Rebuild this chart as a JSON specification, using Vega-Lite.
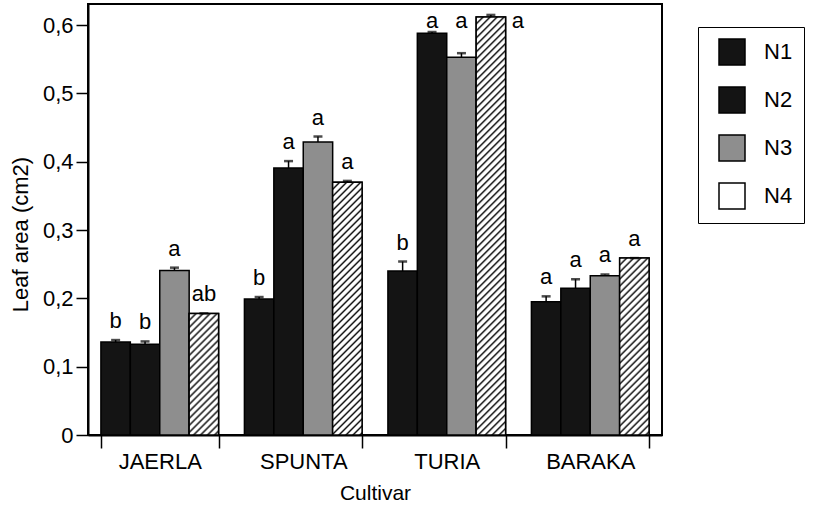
{
  "$schema": "https://vega.github.io/schema/vega-lite/v6.json",
  "width": 574,
  "height": 431,
  "autosize": {"type": "none"},
  "padding": {"left": 88, "top": 4, "right": 152, "bottom": 76},
  "background": "white",
  "config": {
    "font": "Liberation Sans",
    "view": {"stroke": "black", "strokeWidth": 2},
    "axis": {
      "domainColor": "black", "tickColor": "black", "labelColor": "black", "titleColor": "black",
      "labelFont": "Liberation Sans", "titleFont": "Liberation Sans", "titleFontWeight": "normal",
      "grid": false, "domainWidth": 2, "tickWidth": 1.5
    },
    "text": {"font": "Liberation Sans"}
  },
  "data": {
    "values": [
      {"cultivar": "JAERLA", "N": "N1", "value": 0.136, "hi": 0.139, "label": "b"},
      {"cultivar": "JAERLA", "N": "N2", "value": 0.133, "hi": 0.137, "label": "b"},
      {"cultivar": "JAERLA", "N": "N3", "value": 0.241, "hi": 0.245, "label": "a"},
      {"cultivar": "JAERLA", "N": "N4", "value": 0.178, "hi": 0.178, "label": "ab"},
      {"cultivar": "SPUNTA", "N": "N1", "value": 0.199, "hi": 0.202, "label": "b"},
      {"cultivar": "SPUNTA", "N": "N2", "value": 0.391, "hi": 0.401, "label": "a"},
      {"cultivar": "SPUNTA", "N": "N3", "value": 0.429, "hi": 0.437, "label": "a"},
      {"cultivar": "SPUNTA", "N": "N4", "value": 0.370, "hi": 0.372, "label": "a"},
      {"cultivar": "TURIA", "N": "N1", "value": 0.240, "hi": 0.254, "label": "b"},
      {"cultivar": "TURIA", "N": "N2", "value": 0.588, "hi": 0.590, "label": "a"},
      {"cultivar": "TURIA", "N": "N3", "value": 0.553, "hi": 0.559, "label": "a"},
      {"cultivar": "TURIA", "N": "N4", "value": 0.612, "hi": 0.615, "label": "a"},
      {"cultivar": "BARAKA", "N": "N1", "value": 0.195, "hi": 0.203, "label": "a"},
      {"cultivar": "BARAKA", "N": "N2", "value": 0.215, "hi": 0.228, "label": "a"},
      {"cultivar": "BARAKA", "N": "N3", "value": 0.233, "hi": 0.235, "label": "a"},
      {"cultivar": "BARAKA", "N": "N4", "value": 0.259, "hi": 0.259, "label": "a"}
    ]
  },
  "encoding": {
    "x": {
      "field": "cultivar", "type": "nominal",
      "sort": ["JAERLA", "SPUNTA", "TURIA", "BARAKA"],
      "scale": {"paddingInner": 0.18, "paddingOuter": 0.09},
      "axis": {
        "title": "Cultivar", "labelAngle": 0, "tickBand": "extent", "tickSize": 13,
        "labelFontSize": 22, "labelPadding": 3, "titleFontSize": 21,
        "titleY": 58, "titleBaseline": "middle"
      }
    },
    "xOffset": {
      "field": "N", "type": "nominal", "sort": ["N1", "N2", "N3", "N4"],
      "scale": {"paddingInner": 0, "paddingOuter": 0}
    }
  },
  "layer": [
    {
      "mark": {"type": "bar", "stroke": "black", "strokeWidth": 1.5},
      "encoding": {
        "y": {
          "field": "value", "type": "quantitative",
          "scale": {"domain": [0, 0.631], "nice": false, "zero": true},
          "axis": {
            "values": [0, 0.1, 0.2, 0.3, 0.4, 0.5, 0.6],
            "labelExpr": "datum.value == 0 ? '0' : replace(format(datum.value, '.1f'), '.', ',')",
            "tickSize": 12, "labelFontSize": 22, "labelPadding": 3,
            "title": "Leaf area (cm2)", "titleFontSize": 22,
            "titleX": -68, "titleY": 230, "titleBaseline": "middle"
          }
        },
        "fill": {
          "field": "N", "type": "nominal",
          "scale": {"domain": ["N1", "N2", "N3", "N4"], "range": ["#141414", "#141414", "#8e8e8e", "#ffffff"]},
          "legend": {
            "orient": "none", "legendX": 610, "legendY": 23, "title": null,
            "strokeColor": "black", "fillColor": "white", "padding": 11,
            "symbolType": "square", "symbolSize": 676, "symbolStrokeColor": "black",
            "symbolStrokeWidth": 1.5, "symbolOffset": 9, "labelOffset": 18,
            "labelFontSize": 22, "labelFont": "Liberation Sans", "labelColor": "black", "rowPadding": 16
          }
        }
      }
    },
    {
      "transform": [{"filter": "datum.N == 'N4' && datum.cultivar == 'JAERLA'"}],
      "mark": {"type": "bar", "stroke": "black", "strokeWidth": 1.5,
        "fill": {"gradient": "linear", "x1": 0, "y1": 0, "x2": 1.3157, "y2": 5.4383, "stops": [
          {"offset":0,"color":"#111"},{"offset":0.003,"color":"#fff"},{"offset":0.007,"color":"#fff"},
          {"offset":0.01,"color":"#111"},{"offset":0.013,"color":"#fff"},{"offset":0.017,"color":"#fff"},
          {"offset":0.02,"color":"#111"},{"offset":0.023,"color":"#fff"},{"offset":0.027,"color":"#fff"},
          {"offset":0.03,"color":"#111"},{"offset":0.033,"color":"#fff"},{"offset":0.037,"color":"#fff"},
          {"offset":0.04,"color":"#111"},{"offset":0.043,"color":"#fff"},{"offset":0.047,"color":"#fff"},
          {"offset":0.05,"color":"#111"},{"offset":0.053,"color":"#fff"},{"offset":0.057,"color":"#fff"},
          {"offset":0.06,"color":"#111"},{"offset":0.063,"color":"#fff"},{"offset":0.067,"color":"#fff"},
          {"offset":0.07,"color":"#111"},{"offset":0.073,"color":"#fff"},{"offset":0.077,"color":"#fff"},
          {"offset":0.08,"color":"#111"},{"offset":0.083,"color":"#fff"},{"offset":0.087,"color":"#fff"},
          {"offset":0.09,"color":"#111"},{"offset":0.093,"color":"#fff"},{"offset":0.097,"color":"#fff"},
          {"offset":0.1,"color":"#111"},{"offset":0.103,"color":"#fff"},{"offset":0.107,"color":"#fff"},
          {"offset":0.11,"color":"#111"},{"offset":0.113,"color":"#fff"},{"offset":0.117,"color":"#fff"},
          {"offset":0.12,"color":"#111"},{"offset":0.123,"color":"#fff"},{"offset":0.127,"color":"#fff"},
          {"offset":0.13,"color":"#111"},{"offset":0.133,"color":"#fff"},{"offset":0.137,"color":"#fff"},
          {"offset":0.14,"color":"#111"},{"offset":0.143,"color":"#fff"},{"offset":0.147,"color":"#fff"},
          {"offset":0.15,"color":"#111"},{"offset":0.153,"color":"#fff"},{"offset":0.157,"color":"#fff"},
          {"offset":0.16,"color":"#111"},{"offset":0.163,"color":"#fff"},{"offset":0.167,"color":"#fff"},
          {"offset":0.17,"color":"#111"},{"offset":0.173,"color":"#fff"},{"offset":0.177,"color":"#fff"},
          {"offset":0.18,"color":"#111"},{"offset":0.183,"color":"#fff"},{"offset":0.187,"color":"#fff"},
          {"offset":0.19,"color":"#111"},{"offset":0.193,"color":"#fff"},{"offset":0.197,"color":"#fff"},
          {"offset":0.2,"color":"#111"},{"offset":0.203,"color":"#fff"},{"offset":0.207,"color":"#fff"},
          {"offset":0.21,"color":"#111"},{"offset":0.213,"color":"#fff"},{"offset":0.217,"color":"#fff"},
          {"offset":0.22,"color":"#111"}
        ]}},
      "encoding": {"y": {"field": "value", "type": "quantitative"}}
    },
    {
      "transform": [{"filter": "datum.N == 'N4' && datum.cultivar == 'SPUNTA'"}],
      "mark": {"type": "bar", "stroke": "black", "strokeWidth": 1.5,
        "fill": {"gradient": "linear", "x1": 0, "y1": 0, "x2": 0.31819, "y2": 2.733, "stops": [
          {"offset":0,"color":"#111"},{"offset":0.003,"color":"#fff"},{"offset":0.007,"color":"#fff"},
          {"offset":0.01,"color":"#111"},{"offset":0.013,"color":"#fff"},{"offset":0.017,"color":"#fff"},
          {"offset":0.02,"color":"#111"},{"offset":0.023,"color":"#fff"},{"offset":0.027,"color":"#fff"},
          {"offset":0.03,"color":"#111"},{"offset":0.033,"color":"#fff"},{"offset":0.037,"color":"#fff"},
          {"offset":0.04,"color":"#111"},{"offset":0.043,"color":"#fff"},{"offset":0.047,"color":"#fff"},
          {"offset":0.05,"color":"#111"},{"offset":0.053,"color":"#fff"},{"offset":0.057,"color":"#fff"},
          {"offset":0.06,"color":"#111"},{"offset":0.063,"color":"#fff"},{"offset":0.067,"color":"#fff"},
          {"offset":0.07,"color":"#111"},{"offset":0.073,"color":"#fff"},{"offset":0.077,"color":"#fff"},
          {"offset":0.08,"color":"#111"},{"offset":0.083,"color":"#fff"},{"offset":0.087,"color":"#fff"},
          {"offset":0.09,"color":"#111"},{"offset":0.093,"color":"#fff"},{"offset":0.097,"color":"#fff"},
          {"offset":0.1,"color":"#111"},{"offset":0.103,"color":"#fff"},{"offset":0.107,"color":"#fff"},
          {"offset":0.11,"color":"#111"},{"offset":0.113,"color":"#fff"},{"offset":0.117,"color":"#fff"},
          {"offset":0.12,"color":"#111"},{"offset":0.123,"color":"#fff"},{"offset":0.127,"color":"#fff"},
          {"offset":0.13,"color":"#111"},{"offset":0.133,"color":"#fff"},{"offset":0.137,"color":"#fff"},
          {"offset":0.14,"color":"#111"},{"offset":0.143,"color":"#fff"},{"offset":0.147,"color":"#fff"},
          {"offset":0.15,"color":"#111"},{"offset":0.153,"color":"#fff"},{"offset":0.157,"color":"#fff"},
          {"offset":0.16,"color":"#111"},{"offset":0.163,"color":"#fff"},{"offset":0.167,"color":"#fff"},
          {"offset":0.17,"color":"#111"},{"offset":0.173,"color":"#fff"},{"offset":0.177,"color":"#fff"},
          {"offset":0.18,"color":"#111"},{"offset":0.183,"color":"#fff"},{"offset":0.187,"color":"#fff"},
          {"offset":0.19,"color":"#111"},{"offset":0.193,"color":"#fff"},{"offset":0.197,"color":"#fff"},
          {"offset":0.2,"color":"#111"},{"offset":0.203,"color":"#fff"},{"offset":0.207,"color":"#fff"},
          {"offset":0.21,"color":"#111"},{"offset":0.213,"color":"#fff"},{"offset":0.217,"color":"#fff"},
          {"offset":0.22,"color":"#111"},{"offset":0.223,"color":"#fff"},{"offset":0.227,"color":"#fff"},
          {"offset":0.23,"color":"#111"},{"offset":0.233,"color":"#fff"},{"offset":0.237,"color":"#fff"},
          {"offset":0.24,"color":"#111"},{"offset":0.243,"color":"#fff"},{"offset":0.247,"color":"#fff"},
          {"offset":0.25,"color":"#111"},{"offset":0.253,"color":"#fff"},{"offset":0.257,"color":"#fff"},
          {"offset":0.26,"color":"#111"},{"offset":0.263,"color":"#fff"},{"offset":0.267,"color":"#fff"},
          {"offset":0.27,"color":"#111"},{"offset":0.273,"color":"#fff"},{"offset":0.277,"color":"#fff"},
          {"offset":0.28,"color":"#111"},{"offset":0.283,"color":"#fff"},{"offset":0.287,"color":"#fff"},
          {"offset":0.29,"color":"#111"},{"offset":0.293,"color":"#fff"},{"offset":0.297,"color":"#fff"},
          {"offset":0.3,"color":"#111"},{"offset":0.303,"color":"#fff"},{"offset":0.307,"color":"#fff"},
          {"offset":0.31,"color":"#111"},{"offset":0.313,"color":"#fff"},{"offset":0.317,"color":"#fff"},
          {"offset":0.32,"color":"#111"},{"offset":0.323,"color":"#fff"},{"offset":0.327,"color":"#fff"},
          {"offset":0.33,"color":"#111"},{"offset":0.333,"color":"#fff"},{"offset":0.337,"color":"#fff"},
          {"offset":0.34,"color":"#111"},{"offset":0.343,"color":"#fff"},{"offset":0.347,"color":"#fff"},
          {"offset":0.35,"color":"#111"},{"offset":0.353,"color":"#fff"},{"offset":0.357,"color":"#fff"},
          {"offset":0.36,"color":"#111"},{"offset":0.363,"color":"#fff"},{"offset":0.367,"color":"#fff"},
          {"offset":0.37,"color":"#111"},{"offset":0.373,"color":"#fff"},{"offset":0.377,"color":"#fff"},
          {"offset":0.38,"color":"#111"},{"offset":0.383,"color":"#fff"},{"offset":0.387,"color":"#fff"},
          {"offset":0.39,"color":"#111"},{"offset":0.393,"color":"#fff"},{"offset":0.397,"color":"#fff"},
          {"offset":0.4,"color":"#111"},{"offset":0.403,"color":"#fff"},{"offset":0.407,"color":"#fff"},
          {"offset":0.41,"color":"#111"}
        ]}},
      "encoding": {"y": {"field": "value", "type": "quantitative"}}
    },
    {
      "transform": [{"filter": "datum.N == 'N4' && datum.cultivar == 'TURIA'"}],
      "mark": {"type": "bar", "stroke": "black", "strokeWidth": 1.5,
        "fill": {"gradient": "linear", "x1": 0, "y1": 0, "x2": 0.11729, "y2": 1.6664, "stops": [
          {"offset":0,"color":"#111"},{"offset":0.003,"color":"#fff"},{"offset":0.007,"color":"#fff"},
          {"offset":0.01,"color":"#111"},{"offset":0.013,"color":"#fff"},{"offset":0.017,"color":"#fff"},
          {"offset":0.02,"color":"#111"},{"offset":0.023,"color":"#fff"},{"offset":0.027,"color":"#fff"},
          {"offset":0.03,"color":"#111"},{"offset":0.033,"color":"#fff"},{"offset":0.037,"color":"#fff"},
          {"offset":0.04,"color":"#111"},{"offset":0.043,"color":"#fff"},{"offset":0.047,"color":"#fff"},
          {"offset":0.05,"color":"#111"},{"offset":0.053,"color":"#fff"},{"offset":0.057,"color":"#fff"},
          {"offset":0.06,"color":"#111"},{"offset":0.063,"color":"#fff"},{"offset":0.067,"color":"#fff"},
          {"offset":0.07,"color":"#111"},{"offset":0.073,"color":"#fff"},{"offset":0.077,"color":"#fff"},
          {"offset":0.08,"color":"#111"},{"offset":0.083,"color":"#fff"},{"offset":0.087,"color":"#fff"},
          {"offset":0.09,"color":"#111"},{"offset":0.093,"color":"#fff"},{"offset":0.097,"color":"#fff"},
          {"offset":0.1,"color":"#111"},{"offset":0.103,"color":"#fff"},{"offset":0.107,"color":"#fff"},
          {"offset":0.11,"color":"#111"},{"offset":0.113,"color":"#fff"},{"offset":0.117,"color":"#fff"},
          {"offset":0.12,"color":"#111"},{"offset":0.123,"color":"#fff"},{"offset":0.127,"color":"#fff"},
          {"offset":0.13,"color":"#111"},{"offset":0.133,"color":"#fff"},{"offset":0.137,"color":"#fff"},
          {"offset":0.14,"color":"#111"},{"offset":0.143,"color":"#fff"},{"offset":0.147,"color":"#fff"},
          {"offset":0.15,"color":"#111"},{"offset":0.153,"color":"#fff"},{"offset":0.157,"color":"#fff"},
          {"offset":0.16,"color":"#111"},{"offset":0.163,"color":"#fff"},{"offset":0.167,"color":"#fff"},
          {"offset":0.17,"color":"#111"},{"offset":0.173,"color":"#fff"},{"offset":0.177,"color":"#fff"},
          {"offset":0.18,"color":"#111"},{"offset":0.183,"color":"#fff"},{"offset":0.187,"color":"#fff"},
          {"offset":0.19,"color":"#111"},{"offset":0.193,"color":"#fff"},{"offset":0.197,"color":"#fff"},
          {"offset":0.2,"color":"#111"},{"offset":0.203,"color":"#fff"},{"offset":0.207,"color":"#fff"},
          {"offset":0.21,"color":"#111"},{"offset":0.213,"color":"#fff"},{"offset":0.217,"color":"#fff"},
          {"offset":0.22,"color":"#111"},{"offset":0.223,"color":"#fff"},{"offset":0.227,"color":"#fff"},
          {"offset":0.23,"color":"#111"},{"offset":0.233,"color":"#fff"},{"offset":0.237,"color":"#fff"},
          {"offset":0.24,"color":"#111"},{"offset":0.243,"color":"#fff"},{"offset":0.247,"color":"#fff"},
          {"offset":0.25,"color":"#111"},{"offset":0.253,"color":"#fff"},{"offset":0.257,"color":"#fff"},
          {"offset":0.26,"color":"#111"},{"offset":0.263,"color":"#fff"},{"offset":0.267,"color":"#fff"},
          {"offset":0.27,"color":"#111"},{"offset":0.273,"color":"#fff"},{"offset":0.277,"color":"#fff"},
          {"offset":0.28,"color":"#111"},{"offset":0.283,"color":"#fff"},{"offset":0.287,"color":"#fff"},
          {"offset":0.29,"color":"#111"},{"offset":0.293,"color":"#fff"},{"offset":0.297,"color":"#fff"},
          {"offset":0.3,"color":"#111"},{"offset":0.303,"color":"#fff"},{"offset":0.307,"color":"#fff"},
          {"offset":0.31,"color":"#111"},{"offset":0.313,"color":"#fff"},{"offset":0.317,"color":"#fff"},
          {"offset":0.32,"color":"#111"},{"offset":0.323,"color":"#fff"},{"offset":0.327,"color":"#fff"},
          {"offset":0.33,"color":"#111"},{"offset":0.333,"color":"#fff"},{"offset":0.337,"color":"#fff"},
          {"offset":0.34,"color":"#111"},{"offset":0.343,"color":"#fff"},{"offset":0.347,"color":"#fff"},
          {"offset":0.35,"color":"#111"},{"offset":0.353,"color":"#fff"},{"offset":0.357,"color":"#fff"},
          {"offset":0.36,"color":"#111"},{"offset":0.363,"color":"#fff"},{"offset":0.367,"color":"#fff"},
          {"offset":0.37,"color":"#111"},{"offset":0.373,"color":"#fff"},{"offset":0.377,"color":"#fff"},
          {"offset":0.38,"color":"#111"},{"offset":0.383,"color":"#fff"},{"offset":0.387,"color":"#fff"},
          {"offset":0.39,"color":"#111"},{"offset":0.393,"color":"#fff"},{"offset":0.397,"color":"#fff"},
          {"offset":0.4,"color":"#111"},{"offset":0.403,"color":"#fff"},{"offset":0.407,"color":"#fff"},
          {"offset":0.41,"color":"#111"},{"offset":0.413,"color":"#fff"},{"offset":0.417,"color":"#fff"},
          {"offset":0.42,"color":"#111"},{"offset":0.423,"color":"#fff"},{"offset":0.427,"color":"#fff"},
          {"offset":0.43,"color":"#111"},{"offset":0.433,"color":"#fff"},{"offset":0.437,"color":"#fff"},
          {"offset":0.44,"color":"#111"},{"offset":0.443,"color":"#fff"},{"offset":0.447,"color":"#fff"},
          {"offset":0.45,"color":"#111"},{"offset":0.453,"color":"#fff"},{"offset":0.457,"color":"#fff"},
          {"offset":0.46,"color":"#111"},{"offset":0.463,"color":"#fff"},{"offset":0.467,"color":"#fff"},
          {"offset":0.47,"color":"#111"},{"offset":0.473,"color":"#fff"},{"offset":0.477,"color":"#fff"},
          {"offset":0.48,"color":"#111"},{"offset":0.483,"color":"#fff"},{"offset":0.487,"color":"#fff"},
          {"offset":0.49,"color":"#111"},{"offset":0.493,"color":"#fff"},{"offset":0.497,"color":"#fff"},
          {"offset":0.5,"color":"#111"},{"offset":0.503,"color":"#fff"},{"offset":0.507,"color":"#fff"},
          {"offset":0.51,"color":"#111"},{"offset":0.513,"color":"#fff"},{"offset":0.517,"color":"#fff"},
          {"offset":0.52,"color":"#111"},{"offset":0.523,"color":"#fff"},{"offset":0.527,"color":"#fff"},
          {"offset":0.53,"color":"#111"},{"offset":0.533,"color":"#fff"},{"offset":0.537,"color":"#fff"},
          {"offset":0.54,"color":"#111"},{"offset":0.543,"color":"#fff"},{"offset":0.547,"color":"#fff"},
          {"offset":0.55,"color":"#111"},{"offset":0.553,"color":"#fff"},{"offset":0.557,"color":"#fff"},
          {"offset":0.56,"color":"#111"},{"offset":0.563,"color":"#fff"},{"offset":0.567,"color":"#fff"},
          {"offset":0.57,"color":"#111"},{"offset":0.573,"color":"#fff"},{"offset":0.577,"color":"#fff"},
          {"offset":0.58,"color":"#111"},{"offset":0.583,"color":"#fff"},{"offset":0.587,"color":"#fff"},
          {"offset":0.59,"color":"#111"},{"offset":0.593,"color":"#fff"},{"offset":0.597,"color":"#fff"},
          {"offset":0.6,"color":"#111"},{"offset":0.603,"color":"#fff"},{"offset":0.607,"color":"#fff"},
          {"offset":0.61,"color":"#111"},{"offset":0.613,"color":"#fff"},{"offset":0.617,"color":"#fff"},
          {"offset":0.62,"color":"#111"},{"offset":0.623,"color":"#fff"},{"offset":0.627,"color":"#fff"},
          {"offset":0.63,"color":"#111"},{"offset":0.633,"color":"#fff"},{"offset":0.637,"color":"#fff"},
          {"offset":0.64,"color":"#111"}
        ]}},
      "encoding": {"y": {"field": "value", "type": "quantitative"}}
    },
    {
      "transform": [{"filter": "datum.N == 'N4' && datum.cultivar == 'BARAKA'"}],
      "mark": {"type": "bar", "stroke": "black", "strokeWidth": 1.5,
        "fill": {"gradient": "linear", "x1": 0, "y1": 0, "x2": 0.64038, "y2": 3.8506, "stops": [
          {"offset":0,"color":"#111"},{"offset":0.003,"color":"#fff"},{"offset":0.007,"color":"#fff"},
          {"offset":0.01,"color":"#111"},{"offset":0.013,"color":"#fff"},{"offset":0.017,"color":"#fff"},
          {"offset":0.02,"color":"#111"},{"offset":0.023,"color":"#fff"},{"offset":0.027,"color":"#fff"},
          {"offset":0.03,"color":"#111"},{"offset":0.033,"color":"#fff"},{"offset":0.037,"color":"#fff"},
          {"offset":0.04,"color":"#111"},{"offset":0.043,"color":"#fff"},{"offset":0.047,"color":"#fff"},
          {"offset":0.05,"color":"#111"},{"offset":0.053,"color":"#fff"},{"offset":0.057,"color":"#fff"},
          {"offset":0.06,"color":"#111"},{"offset":0.063,"color":"#fff"},{"offset":0.067,"color":"#fff"},
          {"offset":0.07,"color":"#111"},{"offset":0.073,"color":"#fff"},{"offset":0.077,"color":"#fff"},
          {"offset":0.08,"color":"#111"},{"offset":0.083,"color":"#fff"},{"offset":0.087,"color":"#fff"},
          {"offset":0.09,"color":"#111"},{"offset":0.093,"color":"#fff"},{"offset":0.097,"color":"#fff"},
          {"offset":0.1,"color":"#111"},{"offset":0.103,"color":"#fff"},{"offset":0.107,"color":"#fff"},
          {"offset":0.11,"color":"#111"},{"offset":0.113,"color":"#fff"},{"offset":0.117,"color":"#fff"},
          {"offset":0.12,"color":"#111"},{"offset":0.123,"color":"#fff"},{"offset":0.127,"color":"#fff"},
          {"offset":0.13,"color":"#111"},{"offset":0.133,"color":"#fff"},{"offset":0.137,"color":"#fff"},
          {"offset":0.14,"color":"#111"},{"offset":0.143,"color":"#fff"},{"offset":0.147,"color":"#fff"},
          {"offset":0.15,"color":"#111"},{"offset":0.153,"color":"#fff"},{"offset":0.157,"color":"#fff"},
          {"offset":0.16,"color":"#111"},{"offset":0.163,"color":"#fff"},{"offset":0.167,"color":"#fff"},
          {"offset":0.17,"color":"#111"},{"offset":0.173,"color":"#fff"},{"offset":0.177,"color":"#fff"},
          {"offset":0.18,"color":"#111"},{"offset":0.183,"color":"#fff"},{"offset":0.187,"color":"#fff"},
          {"offset":0.19,"color":"#111"},{"offset":0.193,"color":"#fff"},{"offset":0.197,"color":"#fff"},
          {"offset":0.2,"color":"#111"},{"offset":0.203,"color":"#fff"},{"offset":0.207,"color":"#fff"},
          {"offset":0.21,"color":"#111"},{"offset":0.213,"color":"#fff"},{"offset":0.217,"color":"#fff"},
          {"offset":0.22,"color":"#111"},{"offset":0.223,"color":"#fff"},{"offset":0.227,"color":"#fff"},
          {"offset":0.23,"color":"#111"},{"offset":0.233,"color":"#fff"},{"offset":0.237,"color":"#fff"},
          {"offset":0.24,"color":"#111"},{"offset":0.243,"color":"#fff"},{"offset":0.247,"color":"#fff"},
          {"offset":0.25,"color":"#111"},{"offset":0.253,"color":"#fff"},{"offset":0.257,"color":"#fff"},
          {"offset":0.26,"color":"#111"},{"offset":0.263,"color":"#fff"},{"offset":0.267,"color":"#fff"},
          {"offset":0.27,"color":"#111"},{"offset":0.273,"color":"#fff"},{"offset":0.277,"color":"#fff"},
          {"offset":0.28,"color":"#111"},{"offset":0.283,"color":"#fff"},{"offset":0.287,"color":"#fff"},
          {"offset":0.29,"color":"#111"},{"offset":0.293,"color":"#fff"},{"offset":0.297,"color":"#fff"},
          {"offset":0.3,"color":"#111"}
        ]}},
      "encoding": {"y": {"field": "value", "type": "quantitative"}}
    },
    {
      "mark": {"type": "rule", "color": "black", "strokeWidth": 1.5},
      "encoding": {
        "y": {"field": "value", "type": "quantitative"},
        "y2": {"field": "hi"}
      }
    },
    {
      "mark": {"type": "tick", "color": "black", "thickness": 2.5, "size": 9},
      "encoding": {
        "y": {"field": "hi", "type": "quantitative"}
      }
    },
    {
      "transform": [{"filter": "!(datum.cultivar == 'TURIA' && datum.N != 'N1')"}],
      "mark": {"type": "text", "fontSize": 22, "dy": -12, "baseline": "alphabetic", "align": "center", "color": "black"},
      "encoding": {
        "y": {"field": "hi", "type": "quantitative"},
        "text": {"field": "label"}
      }
    },
    {
      "transform": [{"filter": "datum.cultivar == 'TURIA' && (datum.N == 'N2' || datum.N == 'N3')"}],
      "mark": {"type": "text", "fontSize": 22, "baseline": "alphabetic", "align": "center", "color": "black"},
      "encoding": {
        "y": {"datum": 0.596, "type": "quantitative"},
        "text": {"field": "label"}
      }
    },
    {
      "transform": [{"filter": "datum.cultivar == 'TURIA' && datum.N == 'N4'"}],
      "mark": {"type": "text", "fontSize": 22, "baseline": "alphabetic", "align": "center", "color": "black", "dx": 27},
      "encoding": {
        "y": {"datum": 0.596, "type": "quantitative"},
        "text": {"field": "label"}
      }
    }
  ]
}
